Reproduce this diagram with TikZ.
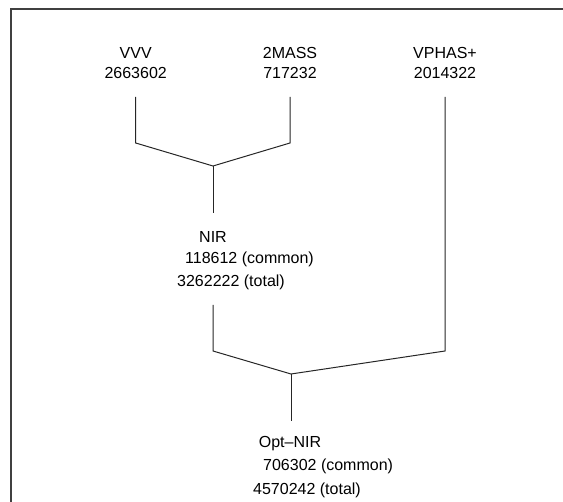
\documentclass[tikz,border=0pt]{standalone}
\usepackage{fontspec}
\setmainfont{Liberation Sans}
\usepackage{tikz}
\usetikzlibrary{calc,positioning}

\begin{document}
\begin{tikzpicture}[
  x=1pt,y=-1pt,
  font=\fontsize{16}{20}\selectfont,
  lbl/.style={anchor=base,inner sep=0pt},
  lblw/.style={anchor=base west,inner sep=0pt},
  link/.style={line width=1pt,black!85},
  frame/.style={line width=2pt,black!75}
]
  \useasboundingbox (0,0) rectangle (563,502);
  \draw[frame] (11,510) -- (11,9) -- (570,9);
  % survey labels
  \node[lbl] (vvv) at (135.7,59) {VVV};
  \node[lbl] (vvvN) at (135.7,79) {2663602};
  \node[lbl] (tmass) at (290,59) {2MASS};
  \node[lbl] (tmassN) at (290,79) {717232};
  \node[lbl] (vphas) at (445,59) {VPHAS+};
  \node[lbl] (vphasN) at (445,79) {2014322};
  % merged catalogues
  \node[lbl] (nir) at (213,243) {NIR};
  \node[lblw] (nirC) at (185,264) {118612 (common)};
  \node[lblw] (nirT) at (177,287) {3262222 (total)};
  \node[lbl] (opt) at (290,448) {Opt\textendash NIR};
  \node[lblw] (optC) at (263,471) {706302 (common)};
  \node[lblw] (optT) at (253,495) {4570242 (total)};
  % tree
  \coordinate (vvvTop) at (135.7,97);
  \coordinate (vvvBot) at (135.7,143);
  \coordinate (tmassTop) at (290,97);
  \coordinate (tmassBot) at (290,143);
  \coordinate (nirJoin) at (213,166);
  \coordinate (nirEnd) at (213,213);
  \coordinate (nirTop) at (213,305);
  \coordinate (nirBot) at (213,351);
  \coordinate (vphasTop) at (445,97);
  \coordinate (vphasBot) at (445,351);
  \coordinate (optJoin) at (291,374);
  \coordinate (optEnd) at (291,421);
  \draw[link] (vvvTop) -- (vvvBot) -- (nirJoin) -- (tmassBot) -- (tmassTop);
  \draw[link] (nirJoin) -- (nirEnd);
  \draw[link] (nirTop) -- (nirBot) -- (optJoin) -- (vphasBot) -- (vphasTop);
  \draw[link] (optJoin) -- (optEnd);
\end{tikzpicture}
\end{document}
